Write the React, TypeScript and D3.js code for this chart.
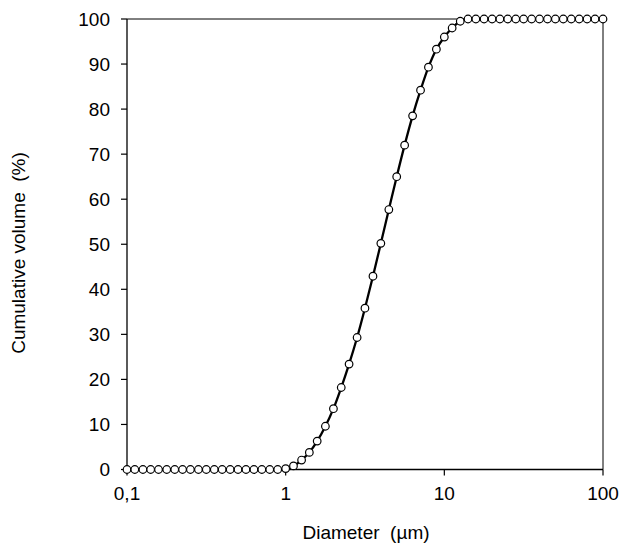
import React from "react";
import * as d3 from "d3";

const diameters = [
  0.1, 0.112, 0.126, 0.141, 0.158, 0.178, 0.2, 0.224, 0.251, 0.282,
  0.316, 0.355, 0.398, 0.447, 0.501, 0.562, 0.631, 0.708, 0.794, 0.891,
  1, 1.12, 1.26, 1.41, 1.58, 1.78, 2, 2.24, 2.51, 2.82,
  3.16, 3.55, 3.98, 4.47, 5.01, 5.62, 6.31, 7.08, 7.94, 8.91,
  10, 11.2, 12.6, 14.1, 15.8, 17.8, 20, 22.4, 25.1, 28.2,
  31.6, 35.5, 39.8, 44.7, 50.1, 56.2, 63.1, 70.8, 79.4, 89.1, 100,
];

const cumulative = [
  0, 0, 0, 0, 0, 0, 0, 0, 0, 0,
  0, 0, 0, 0, 0, 0, 0, 0, 0, 0,
  0.2, 0.8, 2.1, 3.8, 6.3, 9.6, 13.5, 18.2, 23.4, 29.3,
  35.8, 42.9, 50.2, 57.7, 65.0, 72.0, 78.5, 84.2, 89.3, 93.3,
  96.0, 98.0, 99.5, 100, 100, 100, 100, 100, 100, 100,
  100, 100, 100, 100, 100, 100, 100, 100, 100, 100, 100,
];

const xTicks = [0.1, 1, 10, 100];
const xTickLabels = ["0,1", "1", "10", "100"];
const yTicks = [0, 10, 20, 30, 40, 50, 60, 70, 80, 90, 100];

const W = 622;
const H = 545;
const L = 127;
const R = 603;
const T = 19;
const B = 469.5;
const FONT = "Arial, 'Liberation Sans', sans-serif";

export default function App() {
  const x = d3.scaleLog().domain([0.1, 100]).range([L, R]);
  const y = d3.scaleLinear().domain([0, 100]).range([B, T]);
  const pts: [number, number][] = diameters.map((d, i) => [x(d), y(cumulative[i])]);
  const line = d3
    .line<[number, number]>()
    .x((p) => p[0])
    .y((p) => p[1])
    .curve(d3.curveMonotoneX);

  return (
    <svg
      width={W}
      height={H}
      style={{ position: "absolute", left: 0, top: 0, background: "#fff" }}
      fontFamily={FONT}
    >
      <rect x={0} y={0} width={W} height={H} fill="#fff" />
      <line x1={L} x2={R} y1={T} y2={T} stroke="#000" strokeWidth={1} />
      <line x1={R} x2={R} y1={T} y2={B} stroke="#000" strokeWidth={1} />
      <line x1={L} x2={L} y1={T} y2={B} stroke="#000" strokeWidth={1.3} />
      {yTicks.map((t) => (
        <g key={t}>
          <line x1={L - 6} x2={L} y1={y(t)} y2={y(t)} stroke="#000" strokeWidth={1.2} />
          <text x={110} y={y(t)} dy="0.36em" textAnchor="end" fontSize={19} fill="#000">
            {t}
          </text>
        </g>
      ))}
      <line x1={L} x2={R} y1={B} y2={B} stroke="#000" strokeWidth={1.3} />
      {xTicks.map((t, i) => (
        <g key={t}>
          <line x1={x(t)} x2={x(t)} y1={B} y2={B + 6} stroke="#000" strokeWidth={1.2} />
          <text x={x(t)} y={500} textAnchor="middle" fontSize={19} fill="#000">
            {xTickLabels[i]}
          </text>
        </g>
      ))}
      <path d={line(pts) || ""} fill="none" stroke="#000" strokeWidth={2.3} />
      {pts.map((p, i) => (
        <circle key={i} cx={p[0]} cy={p[1]} r={3.8} fill="#fff" stroke="#000" strokeWidth={1.2} />
      ))}
      <text x={(L + R) / 2 + 1} y={539} textAnchor="middle" fontSize={19} fill="#000" xmlSpace="preserve">
        {"Diameter  (µm)"}
      </text>
      <text
        transform={`translate(25, ${253}) rotate(-90)`}
        textAnchor="middle"
        fontSize={19}
        fill="#000"
        xmlSpace="preserve"
      >
        {"Cumulative volume  (%)"}
      </text>
    </svg>
  );
}
